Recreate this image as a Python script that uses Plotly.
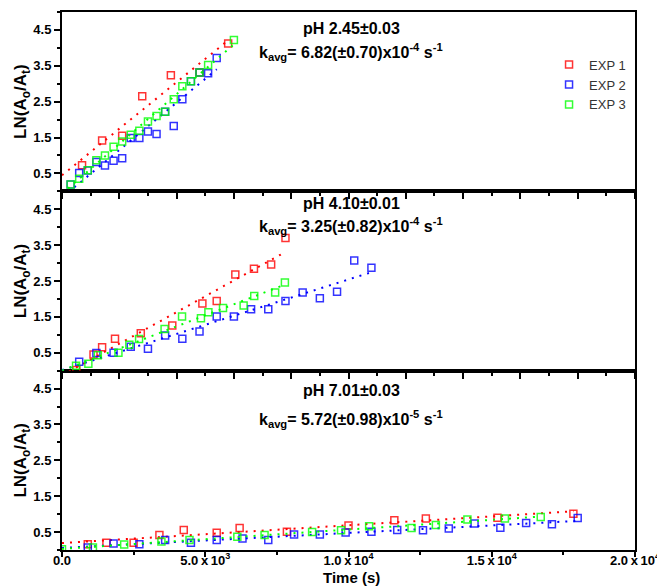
import numpy as np
import plotly.graph_objects as go

# ---------------- data (time in s, LN(Ao/At)) ----------------
# pH 2.45 panel (top)
t_a_exp1 = [700, 1400, 2100, 2800, 3800, 4800, 5800]
v_a_exp1 = [0.73, 1.42, 1.55, 2.65, 3.24, 3.31, 4.12]
t_a_exp2 = [300, 600, 900, 1200, 1500, 1800, 2100, 2400, 2700, 3000, 3300, 3600, 3900, 4200, 4500, 4800, 5100, 5400]
v_a_exp2 = [0.19, 0.51, 0.58, 0.82, 0.72, 0.85, 0.92, 1.49, 1.49, 1.67, 1.60, 2.22, 1.82, 2.57, 3.07, 3.31, 3.29, 3.72]
t_a_exp3 = [300, 600, 900, 1200, 1500, 1800, 2100, 2400, 2700, 3000, 3300, 3600, 3900, 4200, 4500, 4800, 5100, 6000]
v_a_exp3 = [0.19, 0.35, 0.59, 0.87, 1.00, 1.24, 1.39, 1.58, 1.69, 1.95, 2.10, 2.22, 2.57, 2.93, 3.07, 3.31, 3.52, 4.22]

# pH 4.10 panel (middle)
t_b_exp1 = [500, 1100, 1400, 1850, 2750, 3850, 4900, 5400, 6050, 6700, 7300, 7800]
v_b_exp1 = [0.02, 0.45, 0.65, 0.89, 1.04, 1.26, 1.87, 1.94, 2.68, 2.84, 2.96, 3.70]
t_b_exp2 = [600, 1200, 1800, 2400, 3000, 3600, 4200, 4800, 5400, 6000, 6600, 7200, 7800, 8400, 9000, 9600, 10200, 10800]
v_b_exp2 = [0.25, 0.49, 0.50, 0.67, 0.61, 0.98, 0.89, 1.09, 1.51, 1.51, 1.71, 1.71, 1.94, 2.18, 2.02, 2.20, 3.07, 2.87]
t_b_exp3 = [490, 920, 1250, 1970, 2350, 2690, 3580, 4190, 4850, 5110, 5620, 6340, 6710, 7440, 7780]
v_b_exp3 = [0.14, 0.19, 0.43, 0.50, 0.72, 0.88, 1.16, 1.51, 1.46, 1.63, 1.75, 1.82, 2.08, 2.18, 2.46]

# pH 7.01 panel (bottom)
t_c_exp1 = [900, 1550, 2500, 3400, 4250, 5400, 6200, 7850, 10000, 11600, 12700, 15200, 17850]
v_c_exp1 = [0.16, 0.20, 0.20, 0.42, 0.56, 0.48, 0.61, 0.51, 0.68, 0.83, 0.88, 0.90, 1.01]
t_c_exp2 = [900, 1800, 2700, 3600, 4500, 5400, 6300, 7200, 8100, 9000, 9900, 10800, 11700, 12600, 13500, 14400, 15300, 16200, 17100, 18000]
v_c_exp2 = [0.07, 0.18, 0.16, 0.28, 0.20, 0.28, 0.32, 0.28, 0.43, 0.43, 0.49, 0.51, 0.56, 0.55, 0.60, 0.74, 0.62, 0.75, 0.72, 0.89]
t_c_exp3 = [0, 1080, 2170, 3470, 4450, 6120, 7070, 8730, 9740, 10720, 12200, 13050, 14150, 15460, 16710]
v_c_exp3 = [0.02, 0.07, 0.15, 0.24, 0.28, 0.37, 0.42, 0.50, 0.55, 0.66, 0.61, 0.70, 0.85, 0.88, 0.92]

series_names = ["EXP 1", "EXP 2", "EXP 3"]
series_colors = ["#FF0000", "#0000FF", "#00FF00"]

panel_titles = ["pH 2.45\u00b10.03", "pH 4.10\u00b10.01", "pH 7.01\u00b10.03"]
panel_k = [
    "k<sub>avg</sub>= 6.82(\u00b10.70)x10<sup>-4</sup> s<sup>-1</sup>",
    "k<sub>avg</sub>= 3.25(\u00b10.82)x10<sup>-4</sup> s<sup>-1</sup>",
    "k<sub>avg</sub>= 5.72(\u00b10.98)x10<sup>-5</sup> s<sup>-1</sup>",
]

x_tickvals = [0, 5000, 10000, 15000, 20000]
x_ticktext = ["0.0", "5.0\u2009x\u200910<sup>3</sup>", "1.0\u2009x\u200910<sup>4</sup>",
              "1.5\u2009x\u200910<sup>4</sup>", "2.0\u2009x\u200910<sup>4</sup>"]
y_tickvals = [0.5, 1.5, 2.5, 3.5, 4.5]
y_ticktext = ["0.5", "1.5", "2.5", "3.5", "4.5"]

panels = [
    ("x3", "y3", [(t_a_exp1, v_a_exp1), (t_a_exp2, v_a_exp2), (t_a_exp3, v_a_exp3)]),
    ("x2", "y2", [(t_b_exp1, v_b_exp1), (t_b_exp2, v_b_exp2), (t_b_exp3, v_b_exp3)]),
    ("x", "y", [(t_c_exp1, v_c_exp1), (t_c_exp2, v_c_exp2), (t_c_exp3, v_c_exp3)]),
]

FONT = "Arial, 'Liberation Sans', sans-serif"

fig = go.Figure()

for pi, (xa, ya, data) in enumerate(panels):
    for si, (t, v) in enumerate(data):
        t_arr = np.array(t, dtype=float)
        v_arr = np.array(v, dtype=float)
        slope, intercept = np.polyfit(t_arr, v_arr, 1)
        tl = np.linspace(0, t_arr.max(), 60)
        fig.add_trace(go.Scatter(
            x=tl, y=slope * tl + intercept, mode="lines",
            line=dict(color=series_colors[si], width=2, dash="2px,6px"),
            xaxis=xa, yaxis=ya, showlegend=False, hoverinfo="skip",
        ))
        fig.add_trace(go.Scatter(
            x=t, y=v, mode="markers", name=series_names[si],
            marker=dict(symbol="square-open", size=7, color=series_colors[si],
                        line=dict(width=1.5, color=series_colors[si]), opacity=0.8),
            xaxis=xa, yaxis=ya, showlegend=(pi == 0),
        ))

axis_common = dict(
    showline=True, linecolor="black", linewidth=2, mirror=True,
    showgrid=False, zeroline=False, ticks="outside", tickcolor="black",
)

ytickfont = dict(family=FONT, size=13, color="black", weight="bold")
xtickfont = dict(family=FONT, size=13, color="black", weight="bold")

yaxis_common = dict(
    axis_common, range=[0, 5], tickmode="array", tickvals=y_tickvals, ticktext=y_ticktext,
    ticklen=6, tickwidth=1.5, tickfont=ytickfont,
    minor=dict(tickmode="linear", tick0=0, dtick=0.5, ticks="outside", ticklen=3, tickcolor="black", tickwidth=1.5),
    title=dict(text="LN(A<sub>o</sub>/A<sub>t</sub>)", font=dict(family=FONT, size=17, color="black", weight="bold"), standoff=2),
    automargin=False,
)

fig.update_layout(
    width=657, height=587,
    margin=dict(l=62, r=22, t=10, b=37),
    paper_bgcolor="white", plot_bgcolor="white",
    font=dict(family=FONT, size=12, color="black"),
    showlegend=True,
    legend=dict(x=0.85, y=0.93, xanchor="left", yanchor="top",
                font=dict(family=FONT, size=13, color="#333333"),
                bgcolor="rgba(0,0,0,0)", tracegroupgap=0, itemwidth=30),
    xaxis=dict(axis_common, domain=[0, 1], range=[0, 20000], anchor="y",
               tickmode="array", tickvals=x_tickvals, ticktext=x_ticktext,
               ticklen=5, tickwidth=1.5, tickfont=xtickfont, ticklabelstandoff=-8,
               ticklabeloverflow="allow",
               minor=dict(tickmode="linear", tick0=0, dtick=2500, ticks="outside", ticklen=3, tickcolor="black", tickwidth=1.5),
               automargin=False),
    xaxis2=dict(axis_common, domain=[0, 1], range=[0, 20000], anchor="y2", matches="x",
                dtick=2000, tick0=0, ticklen=6, tickwidth=1.5, showticklabels=False,
                minor=dict(tickmode="linear", tick0=0, dtick=1000, ticks="outside", ticklen=3, tickcolor="black", tickwidth=1.5)),
    xaxis3=dict(axis_common, domain=[0, 1], range=[0, 20000], anchor="y3", matches="x",
                dtick=2000, tick0=0, ticklen=6, tickwidth=1.5, showticklabels=False,
                minor=dict(tickmode="linear", tick0=0, dtick=1000, ticks="outside", ticklen=3, tickcolor="black", tickwidth=1.5)),
    yaxis=dict(yaxis_common, domain=[0, 1/3], anchor="x"),
    yaxis2=dict(yaxis_common, domain=[1/3, 2/3], anchor="x2"),
    yaxis3=dict(yaxis_common, domain=[2/3, 1], anchor="x3"),
)

# x-axis title placed at the bottom edge of the figure
fig.add_annotation(x=0.505, y=-37 / 540, xref="paper", yref="paper", text="Time (s)",
                   showarrow=False, xanchor="center", yanchor="bottom", borderpad=0,
                   font=dict(family=FONT, size=15, color="black", weight="bold"))

title_y = [0.969, 0.644, 0.296]
k_y = [0.926, 0.603, 0.244]
for i in range(3):
    fig.add_annotation(x=0.505, y=title_y[i], xref="paper", yref="paper", text=panel_titles[i],
                       showarrow=False, xanchor="center", yanchor="middle",
                       font=dict(family=FONT, size=16, color="black", weight="bold"))
    fig.add_annotation(x=0.505, y=k_y[i], xref="paper", yref="paper", text=panel_k[i],
                       showarrow=False, xanchor="center", yanchor="middle",
                       font=dict(family=FONT, size=16, color="black", weight="bold"))

fig.write_html("out.html")
